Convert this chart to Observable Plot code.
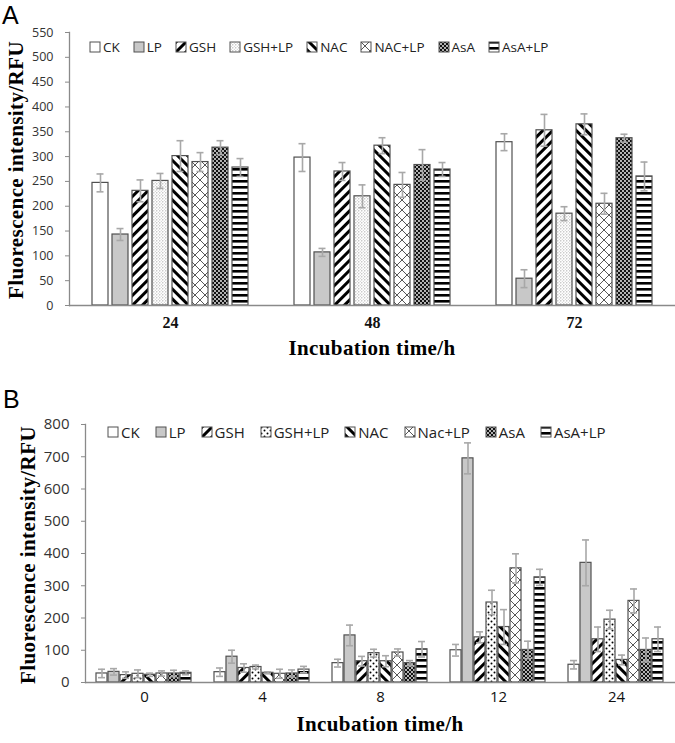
<!DOCTYPE html>
<html><head><meta charset="utf-8">
<script src="https://cdn.jsdelivr.net/npm/d3@7"></script>
<script src="https://cdn.jsdelivr.net/npm/@observablehq/plot@0.6"></script>
<style>
body{margin:0;background:#fff;}
#wrap{position:relative;width:675px;height:743px;overflow:hidden;background:#fff;}
.panel{position:absolute;left:0;width:675px;}
.letter{position:absolute;font-family:"Liberation Sans",sans-serif;font-size:25px;line-height:1.2;color:#000;}
.ytitle,.xtitle{position:absolute;font-family:"Liberation Serif",serif;font-weight:bold;font-size:21px;letter-spacing:0.4px;white-space:nowrap;line-height:1.2;color:#000;}
.ytitle{transform:translate(-50%,-50%) rotate(-90deg);}
.xtitle{transform:translate(-50%,-50%);}
.legend{position:absolute;display:flex;align-items:center;font-family:"Open Sans",sans-serif;color:#222;white-space:nowrap;transform:translateY(-50%);}
.legend .item{display:flex;align-items:center;}
.legend svg{display:block;margin-right:2px;}
</style></head>
<body>
<svg width="0" height="0" style="position:absolute">
<defs>
<pattern id="pGSH" width="7" height="7" patternUnits="userSpaceOnUse" patternTransform="rotate(45)"><rect width="7" height="7" fill="#fff"/><rect width="3" height="7" fill="#000"/></pattern>
<pattern id="pNAC" width="7" height="7" patternUnits="userSpaceOnUse" patternTransform="rotate(-45)"><rect width="7" height="7" fill="#fff"/><rect width="3" height="7" fill="#000"/></pattern>
<pattern id="pGSHLPa" width="3" height="3" patternUnits="userSpaceOnUse"><rect width="3" height="3" fill="#fff"/><circle cx="0.8" cy="0.8" r="0.65" fill="#999"/><circle cx="2.3" cy="2.3" r="0.5" fill="#bbb"/></pattern>
<pattern id="pGSHLPb" width="6" height="6" patternUnits="userSpaceOnUse"><rect width="6" height="6" fill="#fff"/><circle cx="1.5" cy="1.5" r="1" fill="#000"/><circle cx="4.5" cy="4.5" r="1" fill="#000"/></pattern>
<pattern id="pNACLP" width="10" height="10" patternUnits="userSpaceOnUse"><rect width="10" height="10" fill="#fff"/><path d="M0,0L10,10M10,0L0,10" stroke="#444" stroke-width="0.9" fill="none"/></pattern>
<pattern id="pAsA" width="4" height="4" patternUnits="userSpaceOnUse"><rect width="4" height="4" fill="#111"/><circle cx="1" cy="1" r="0.9" fill="#fff"/><circle cx="3" cy="3" r="0.9" fill="#fff"/></pattern>
<pattern id="pAsALP" width="6" height="6" patternUnits="userSpaceOnUse"><rect width="6" height="6" fill="#fff"/><rect width="6" height="2.6" fill="#000"/></pattern>
</defs>
</svg>
<div id="wrap">
  <div class="panel" id="panelA" style="top:0;height:365px;"></div>
  <div class="panel" id="panelB" style="top:365px;height:378px;"></div>
</div>
<script>
// ---------- Data ----------
const seriesA = ["CK","LP","GSH","GSH+LP","NAC","NAC+LP","AsA","AsA+LP"];
const seriesB = ["CK","LP","GSH","GSH+LP","NAC","Nac+LP","AsA","AsA+LP"];
const groupsA = ["24","48","72"];
const groupsB = ["0","4","8","12","24"];
const yTicksA = [0,50,100,150,200,250,300,350,400,450,500,550];
const yTicksB = [0,100,200,300,400,500,600,700,800];

// Panel A means and SD (per incubation time, in series order)
const meanA24 = [247,143,231,251,301,289,318,278];
const errA24  = [18,12,22,15,31,19,14,18];
const meanA48 = [298,107,270,220,322,243,283,274];
const errA48  = [28,8,18,23,16,25,31,14];
const meanA72 = [329,54,353,185,365,205,337,260];
const errA72  = [17,18,32,14,21,21,8,29];

// Panel B means and SD
const meanB0  = [28,33,23,27,24,28,28,30];
const errB0   = [13,10,10,12,5,8,10,6];
const meanB4  = [32,80,45,48,30,27,28,40];
const errB4   = [13,20,13,6,3,14,11,10];
const meanB8  = [60,146,66,91,66,93,60,103];
const errB8   = [12,32,15,12,17,11,8,24];
const meanB12 = [100,695,140,248,172,354,101,326];
const errB12  = [18,48,17,38,54,45,27,25];
const meanB24 = [55,371,134,195,70,253,101,134];
const errB24  = [13,71,38,29,15,37,37,38];

const fillsA = ["#fff","#c8c8c8","url(#pGSH)","url(#pGSHLPa)","url(#pNAC)","url(#pNACLP)","url(#pAsA)","url(#pAsALP)"];
const fillsB = ["#fff","#c8c8c8","url(#pGSH)","url(#pGSHLPb)","url(#pNAC)","url(#pNACLP)","url(#pAsA)","url(#pAsALP)"];

function table(groups, series, means, errs){
  return groups.flatMap((g,i)=>series.map((s,j)=>({group:g, series:s, value:means[i][j], err:errs[i][j]})));
}
const dataA = table(groupsA, seriesA, [meanA24,meanA48,meanA72], [errA24,errA48,errA72]);
const dataB = table(groupsB, seriesB, [meanB0,meanB4,meanB8,meanB12,meanB24], [errB0,errB4,errB8,errB12,errB24]);

function makePlot(cfg){
  const {data, series, fills, groups, yMax, yTicks, h, mt, mb, ml, po, pi, capInset, yFont, fxFont} = cfg;
  return Plot.plot({
    width: 675, height: h, marginTop: mt, marginBottom: mb, marginLeft: ml, marginRight: 0,
    style: {fontFamily: "'Open Sans', sans-serif", background: "transparent", overflow: "visible"},
    fx: {domain: groups, padding: 0, label: null},
    x: {domain: series, paddingInner: pi, paddingOuter: po, axis: null},
    y: {domain: [0, yMax]},
    color: {domain: series, range: fills},
    marks: [
      Plot.barY(data, {fx: "group", x: "series", y: "value", fill: "series", stroke: "#505050", strokeWidth: 1.2}),
      Plot.ruleX(data, {fx: "group", x: "series", y1: d => d.value - d.err, y2: d => d.value + d.err, stroke: "#a8a8a8", strokeWidth: 1.6}),
      Plot.tickY(data, {fx: "group", x: "series", y: d => d.value + d.err, stroke: "#a8a8a8", strokeWidth: 1.6, insetLeft: capInset, insetRight: capInset}),
      Plot.tickY(data, {fx: "group", x: "series", y: d => d.value - d.err, stroke: "#a8a8a8", strokeWidth: 1.6, insetLeft: capInset, insetRight: capInset}),
      Plot.ruleY([0], {stroke: "#8a8a8a", strokeWidth: 1.3}),
      Plot.frame({anchor: "left", facetAnchor: "left", stroke: "#8a8a8a", strokeWidth: 1.3}),
      Plot.axisY({ticks: yTicks, tickSize: 4, tickPadding: 12, stroke: "#8a8a8a", fill: "#333", fontSize: yFont, label: null}),
      Plot.axisFx({anchor: "bottom", tickSize: 0, tickPadding: fxFont.pad, fontSize: fxFont.size, fontWeight: fxFont.weight, fontFamily: fxFont.family, fill: "#111", label: null})
    ]
  });
}

function legend(series, fills, opts){
  const div = document.createElement("div");
  div.className = "legend";
  div.style.left = opts.left + "px";
  div.style.top = opts.top + "px";
  div.style.fontSize = opts.font + "px";
  div.style.gap = opts.gap + "px";
  series.forEach((s,i)=>{
    const it = document.createElement("div");
    it.className = "item";
    it.innerHTML = `<svg width="12" height="12"><rect x="1" y="1" width="10" height="10" fill="${fills[i]}" stroke="#505050" stroke-width="1"/></svg><span>${s}</span>`;
    div.appendChild(it);
  });
  return div;
}

function addText(parent, cls, text, x, y){
  const d = document.createElement("div");
  d.className = cls; d.textContent = text;
  d.style.left = x + "px"; d.style.top = y + "px";
  parent.appendChild(d);
}

// ---------- Panel A ----------
const pA = document.getElementById("panelA");
const plotA = makePlot({data: dataA, series: seriesA, fills: fillsA, groups: groupsA, yMax: 550, yTicks: yTicksA,
  h: 365, mt: 32, mb: 60, ml: 69, po: 1.15, pi: 0.2, capInset: 4.5, yFont: 12.5,
  fxFont: {size: 16, weight: "bold", family: "'Liberation Serif', serif", pad: 11}});
plotA.style.position = "absolute"; plotA.style.left = "0px"; plotA.style.top = "0px";
pA.appendChild(plotA);
addText(pA, "letter", "A", 2, 0);
pA.appendChild(legend(seriesA, fillsA, {left: 89, top: 47, font: 13.5, gap: 13}));
addText(pA, "ytitle", "Fluorescence intensity/RFU", 17, 170);
addText(pA, "xtitle", "Incubation time/h", 372, 349);

// ---------- Panel B ----------
const pB = document.getElementById("panelB");
const plotB = makePlot({data: dataB, series: seriesB, fills: fillsB, groups: groupsB, yMax: 800, yTicks: yTicksB,
  h: 378, mt: 59, mb: 61, ml: 84, po: 0.82, pi: 0.08, capInset: 2, yFont: 15,
  fxFont: {size: 15, weight: "normal", family: "'Open Sans', sans-serif", pad: 9}});
plotB.style.position = "absolute"; plotB.style.left = "0px"; plotB.style.top = "0px";
pB.appendChild(plotB);
addText(pB, "letter", "B", 3, 19);
pB.appendChild(legend(seriesB, fillsB, {left: 107, top: 67, font: 15, gap: 15}));
addText(pB, "ytitle", "Fluorescence intensity/RFU", 29, 190);
addText(pB, "xtitle", "Incubation time/h", 380, 360);
</script>
</body></html>
